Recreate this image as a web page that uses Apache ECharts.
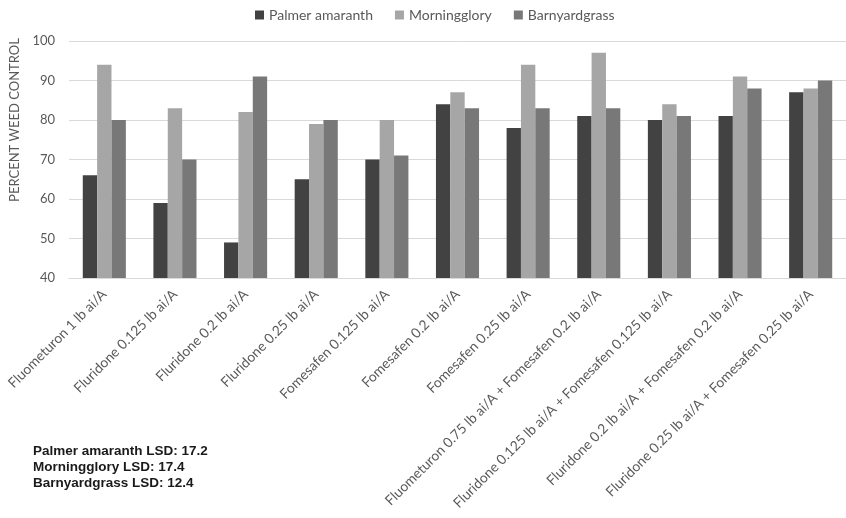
<!DOCTYPE html>
<html>
<head>
<meta charset="utf-8">
<script src="https://cdn.jsdelivr.net/npm/echarts@6/dist/echarts.min.js"></script>
<style>html,body{margin:0;padding:0;background:#fff}#c{width:846px;height:518px}</style>
</head>
<body>
<div id="c"></div>
<script>
var categories = [
  "Fluometuron 1 lb ai/A",
  "Fluridone 0.125 lb ai/A",
  "Fluridone 0.2 lb ai/A",
  "Fluridone 0.25 lb ai/A",
  "Fomesafen 0.125 lb ai/A",
  "Fomesafen 0.2 lb ai/A",
  "Fomesafen 0.25 lb ai/A",
  "Fluometuron 0.75 lb ai/A + Fomesafen 0.2 lb ai/A",
  "Fluridone 0.125 lb ai/A + Fomesafen 0.125 lb ai/A",
  "Fluridone 0.2 lb ai/A + Fomesafen 0.2 lb ai/A",
  "Fluridone 0.25 lb ai/A + Fomesafen 0.25 lb ai/A"
];
var palmer = [66, 59, 49, 65, 70, 84, 78, 81, 80, 81, 87];
var morningglory = [94, 83, 82, 79, 80, 87, 94, 97, 84, 91, 88];
var barnyardgrass = [80, 70, 91, 80, 71, 83, 83, 83, 81, 88, 90];
var seriesNames = ["Palmer amaranth", "Morningglory", "Barnyardgrass"];
var yTicks = { min: 40, max: 100, interval: 10 };
var yTitle = "PERCENT WEED CONTROL";
var lsdLines = ["Palmer amaranth LSD: 17.2", "Morningglory LSD: 17.4", "Barnyardgrass LSD: 12.4"];

var chart = echarts.init(document.getElementById('c'));
var font = 'Lato';
chart.setOption({
  animation: false,
  legend: {
    top: 3,
    left: 250,
    itemWidth: 9, itemHeight: 9, itemGap: 22,
    icon: 'rect',
    textStyle: { fontFamily: font, fontSize: 14, color: '#595959' },
    data: seriesNames
  },
  grid: { left: 69, right: -4, top: 41, bottom: 240 },
  xAxis: {
    type: 'category',
    data: categories,
    axisLine: { lineStyle: { color: '#d9d9d9' } },
    axisTick: { show: false },
    axisLabel: { rotate: 45, interval: 0, fontFamily: font, fontSize: 13.8, color: '#595959', margin: 14 }
  },
  yAxis: {
    type: 'value',
    min: yTicks.min, max: yTicks.max, interval: yTicks.interval,
    axisLine: { show: false },
    axisTick: { show: false },
    axisLabel: { fontFamily: font, fontSize: 13, color: '#595959', margin: 14 },
    splitLine: { lineStyle: { color: '#d9d9d9' } }
  },
  series: [
    { name: seriesNames[0], type: 'bar', data: palmer, itemStyle: { color: '#424242' }, barGap: '0%', barCategoryGap: '39%' },
    { name: seriesNames[1], type: 'bar', data: morningglory, itemStyle: { color: '#a6a6a6' } },
    { name: seriesNames[2], type: 'bar', data: barnyardgrass, itemStyle: { color: '#787878' } }
  ],
  graphic: [{
    type: 'text', x: 15, y: 120, rotation: Math.PI / 2,
    style: { text: yTitle, font: '13px Lato', fill: '#595959', align: 'center', verticalAlign: 'middle' }
  }].concat(lsdLines.map(function (t, i) {
    return {
      type: 'text', left: 33, top: 444 + i * 16,
      style: { text: t, font: 'bold 13.5px "Liberation Sans", Arial', fill: '#1a1a1a' }
    };
  }))
});
</script>
</body>
</html>
